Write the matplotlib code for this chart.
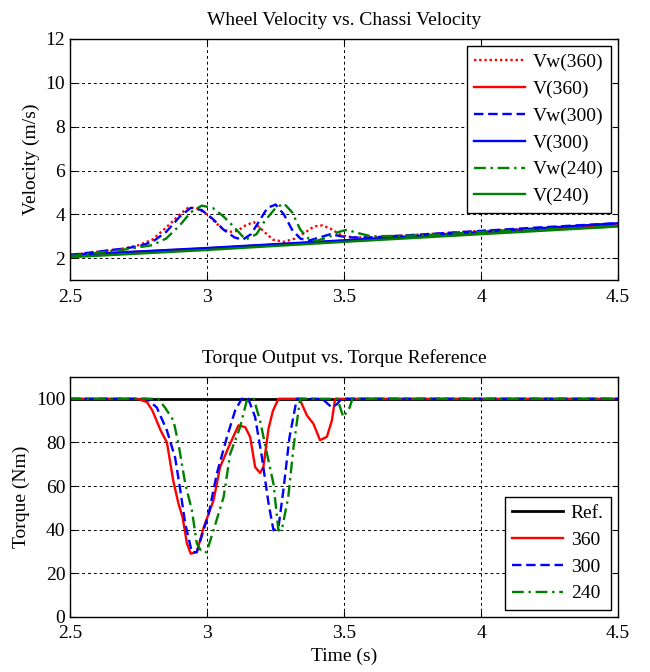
import matplotlib
matplotlib.use("Agg")
import matplotlib.pyplot as plt

plt.rcParams['font.family'] = ['Liberation Serif', 'DejaVu Serif']
plt.rcParams['mathtext.fontset'] = 'stix'

# ---------------- data: top panel (velocity) ----------------
t_v = [2.5, 3.0, 3.5, 4.0, 4.5]
v_360 = [2.15, 2.45, 2.80, 3.15, 3.50]
v_300 = [2.15, 2.47, 2.82, 3.20, 3.60]
v_240 = [2.05, 2.38, 2.75, 3.10, 3.45]

t_vw360 = [2.5, 2.6, 2.7, 2.75, 2.8, 2.85, 2.9, 2.93, 2.96, 3.0, 3.05, 3.08, 3.11, 3.14,
           3.17, 3.2, 3.24, 3.28, 3.32, 3.36, 3.39, 3.42, 3.45, 3.49, 3.53, 3.6, 3.8, 4.0,
           4.2, 4.5]
vw_360 = [2.15, 2.3, 2.45, 2.6, 2.85, 3.4, 4.0, 4.3, 4.3, 4.0, 3.4, 3.2, 3.25, 3.5,
          3.65, 3.3, 2.85, 2.75, 2.9, 3.2, 3.45, 3.5, 3.35, 3.05, 2.95, 2.95, 3.1, 3.25,
          3.35, 3.55]

t_vw300 = [2.5, 2.6, 2.7, 2.75, 2.8, 2.85, 2.9, 2.94, 2.98, 3.02, 3.06, 3.1, 3.13, 3.16,
           3.19, 3.22, 3.25, 3.28, 3.31, 3.34, 3.37, 3.41, 3.45, 3.49, 3.53, 3.6, 3.8, 4.0,
           4.2, 4.5]
vw_300 = [2.15, 2.3, 2.45, 2.55, 2.75, 3.2, 3.9, 4.3, 4.2, 3.8, 3.3, 2.95, 2.85, 3.1,
          3.7, 4.3, 4.45, 4.0, 3.3, 2.9, 2.8, 2.95, 3.1, 3.0, 2.95, 2.95, 3.1, 3.25,
          3.4, 3.6]

t_vw240 = [2.5, 2.6, 2.7, 2.75, 2.8, 2.85, 2.9, 2.94, 2.98, 3.02, 3.06, 3.1, 3.14, 3.18,
           3.21, 3.25, 3.28, 3.31, 3.34, 3.37, 3.4, 3.44, 3.48, 3.51, 3.55, 3.6, 3.8, 4.0,
           4.2, 4.5]
vw_240 = [2.1, 2.25, 2.4, 2.5, 2.6, 2.9, 3.5, 4.1, 4.4, 4.3, 3.9, 3.4, 2.85, 3.1,
          3.7, 4.3, 4.5, 4.1, 3.3, 2.9, 2.8, 2.95, 3.2, 3.3, 3.15, 3.0, 3.05, 3.2,
          3.3, 3.45]

# ---------------- data: bottom panel (torque) ----------------
t_ref = [2.5, 4.5]
tq_ref = [100, 100]

t_tq360 = [2.5, 2.745, 2.78, 2.80, 2.83, 2.853, 2.876, 2.895, 2.91, 2.926, 2.94, 2.962,
           2.987, 3.023, 3.047, 3.084, 3.114, 3.139, 3.157, 3.175, 3.193, 3.205, 3.224,
           3.24, 3.26, 3.337, 3.364, 3.388, 3.412, 3.437, 3.455, 3.467, 4.5]
tq_360 = [100, 100, 98.5, 94.6, 85.5, 80, 62.5, 52, 45.8, 33.7, 29, 29.7,
          41, 53.4, 68.7, 79.5, 87.8, 87, 82.4, 68.7, 66, 68.7, 86.4,
          94.5, 100, 100, 92.4, 88.5, 81, 82.6, 90, 100, 100]

t_tq300 = [2.5, 2.78, 2.816, 2.853, 2.883, 2.90, 2.92, 2.944, 2.962, 2.98, 3.005, 3.035,
           3.072, 3.102, 3.126, 3.15, 3.175, 3.20, 3.224, 3.242, 3.26, 3.278, 3.30,
           3.327, 3.42, 3.455, 3.473, 3.49, 4.5]
tq_300 = [100, 100, 96, 85.5, 73, 59.6, 42.7, 29.7, 29.7, 37, 47, 65.6,
          82.4, 94.6, 100, 100, 91.6, 73, 52, 39.7, 41, 58, 82,
          100, 100, 96, 97.5, 100, 100]

t_tq240 = [2.5, 2.82, 2.846, 2.877, 2.895, 2.92, 2.944, 2.962, 2.98, 2.998, 3.023, 3.06,
           3.084, 3.12, 3.144, 3.17, 3.193, 3.218, 3.242, 3.26, 3.272, 3.296, 3.315,
           3.339, 3.475, 3.497, 3.52, 3.53, 4.5]
tq_240 = [100, 100, 96, 90, 79.5, 61, 49, 33.7, 29.7, 29.7, 39.7, 55,
          74.8, 87, 99, 100, 90, 75, 61, 39.7, 39.7, 55, 77.8,
          100, 100, 91.6, 96, 100, 100]

x_ticks = [2.5, 3, 3.5, 4, 4.5]
x_ticklabels = ['2.5', '3', '3.5', '4', '4.5']
v_ticks = [2, 4, 6, 8, 10, 12]
tq_ticks = [0, 20, 40, 60, 80, 100]

RED, BLUE, GREEN = '#ff0000', '#0000ff', '#008000'
FS = 14

fig = plt.figure(figsize=(6.5, 6.72), dpi=100)
ax1 = fig.add_axes([0.108, 0.583, 0.843, 0.359])
ax2 = fig.add_axes([0.108, 0.082, 0.843, 0.357])

grid_kw = dict(color='black', linestyle=(0, (3, 3)), linewidth=0.7)
leg_kw = dict(fontsize=FS, frameon=True, fancybox=False, edgecolor='black', framealpha=1,
              handlelength=2.6, handletextpad=0.4, borderpad=0.4, labelspacing=0.47,
              borderaxespad=0.35)

# top panel
ax1.plot(t_vw360, vw_360, color=RED, linestyle=(0, (1, 1.2)), lw=1.7, label='Vw(360)')
ax1.plot(t_v, v_360, color=RED, linestyle='-', lw=1.7, label='V(360)')
ax1.plot(t_vw300, vw_300, color=BLUE, linestyle=(0, (4, 2)), lw=1.7, label='Vw(300)')
ax1.plot(t_v, v_300, color=BLUE, linestyle='-', lw=1.7, label='V(300)')
ax1.plot(t_vw240, vw_240, color=GREEN, linestyle=(0, (5, 2, 1, 2)), lw=1.7, label='Vw(240)')
ax1.plot(t_v, v_240, color=GREEN, linestyle='-', lw=1.7, label='V(240)')
ax1.set_xlim(2.5, 4.5)
ax1.set_ylim(1, 12)
ax1.set_xticks(x_ticks)
ax1.set_xticklabels(x_ticklabels)
ax1.set_yticks(v_ticks)
ax1.set_ylabel('Velocity (m/s)', fontsize=FS, labelpad=4)
ax1.set_title('Wheel Velocity vs. Chassi Velocity', fontsize=FS, pad=10)
ax1.grid(True, **grid_kw)
leg1 = ax1.legend(loc='upper right', **leg_kw)
leg1.get_frame().set_linewidth(1.0)

# bottom panel
ax2.plot(t_ref, tq_ref, color='black', linestyle='-', lw=2.0, label='Ref.')
ax2.plot(t_tq360, tq_360, color=RED, linestyle='-', lw=1.7, label='360')
ax2.plot(t_tq300, tq_300, color=BLUE, linestyle=(0, (4, 2)), lw=1.7, label='300')
ax2.plot(t_tq240, tq_240, color=GREEN, linestyle=(0, (5, 2, 1, 2)), lw=1.7, label='240')
ax2.set_xlim(2.5, 4.5)
ax2.set_ylim(0, 110)
ax2.set_xticks(x_ticks)
ax2.set_xticklabels(x_ticklabels)
ax2.set_yticks(tq_ticks)
ax2.set_ylabel('Torque (Nm)', fontsize=FS, labelpad=4)
ax2.set_xlabel('Time (s)', fontsize=FS, labelpad=4)
ax2.set_title('Torque Output vs. Torque Reference', fontsize=FS, pad=10)
ax2.grid(True, **grid_kw)
leg2 = ax2.legend(loc='lower right', **leg_kw)
leg2.get_frame().set_linewidth(1.0)

for ax in (ax1, ax2):
    ax.tick_params(direction='in', top=True, right=True, labelsize=FS, length=4, width=0.8)
    ax.tick_params(axis='x', pad=6)
    for s in ax.spines.values():
        s.set_linewidth(1.0)

fig.savefig('out.png', dpi=100)
